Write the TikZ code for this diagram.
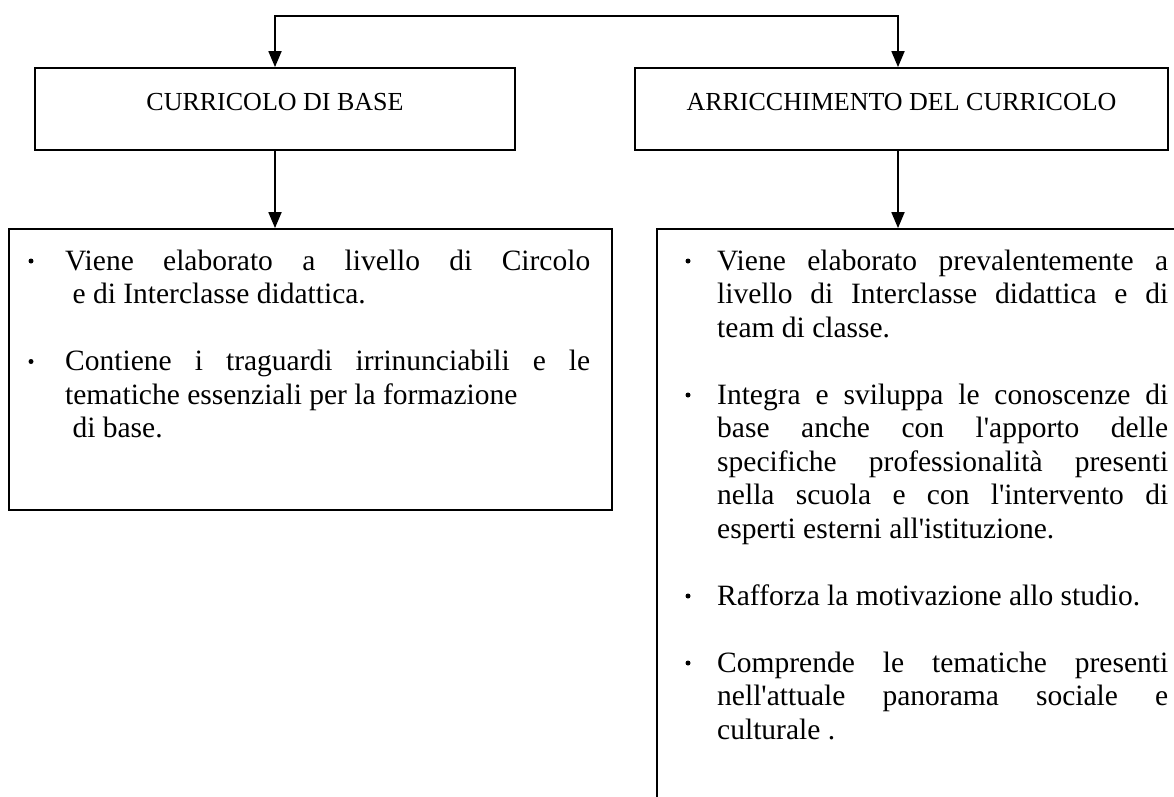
\documentclass[tikz,border=0pt]{standalone}
\usepackage{fontspec}
\setmainfont{Liberation Serif}
\usetikzlibrary{arrows.meta}
\newcommand\bodyfont{\fontsize{29.5}{34}\selectfont}
\newcommand\titlefont{\fontsize{26}{30}\selectfont}
\newcommand\q{\textquotesingle}
\tikzset{
  boxst/.style={draw, line width=1.8pt, inner sep=0pt},
  titlebox/.style={boxst, minimum height=82pt, font=\titlefont, text height=20pt, text depth=16.8pt},
  arr/.style={line width=1.8pt, -{Triangle[width=13pt,length=16pt]}},
  arrtwo/.style={line width=1.8pt, {Triangle[width=13pt,length=16pt]}-{Triangle[width=13pt,length=16pt]}},
  txt/.style={anchor=base west, inner sep=0pt, font=\bodyfont},
  bul/.style={circle, fill=black, inner sep=0pt, minimum size=5pt},
}
\newcommand\jl[2]{\makebox[#1][s]{#2}}
\begin{document}
\begin{tikzpicture}[x=1pt,y=-1pt]
\useasboundingbox (0,0) rectangle (1174,796);
\clip (0,0) rectangle (1174,796);
% top boxes
\node[titlebox, minimum width=480pt] (cb) at (275,109) {CURRICOLO DI BASE};
\node[titlebox, minimum width=533pt] (ac) at (901.5,109) {ARRICCHIMENTO DEL CURRICOLO};
% lower boxes
\node[boxst, minimum width=603pt, minimum height=281pt] (lb) at (310.5,369.5) {};
\node[boxst, minimum width=545pt, minimum height=600pt] (rb) at (929.5,529) {};
% connectors
\coordinate (tl) at (275,16);
\coordinate (tr) at (898,16);
\draw[arrtwo] (tl |- cb.north) -- (tl) -- (tr) -- (tr |- ac.north);
\draw[arr] (tl |- cb.south) -- (tl |- lb.north);
\draw[arr] (tr |- ac.south) -- (tr |- rb.north);
% left text
\node[bul] (lbu1) at (31,261) {};
\node[txt] (l1) at (65,270) {\jl{525pt}{Viene elaborato a livello di Circolo}};
\node[txt] (l2) at (65,303.5) {\ e di Interclasse didattica.};
\node[bul] (lbu2) at (31,361.5) {};
\node[txt] (l3) at (65,370.5) {\jl{525pt}{Contiene i traguardi irrinunciabili e le}};
\node[txt] (l4) at (65,404) {tematiche essenziali per la formazione};
\node[txt] (l5) at (65,437.5) {\ di base.};
% right text
\node[bul] (rbu1) at (688,261) {};
\node[txt] (r1) at (717,270) {\jl{451pt}{Viene elaborato prevalentemente a}};
\node[txt] (r2) at (717,303.5) {\jl{451pt}{livello di Interclasse didattica e di}};
\node[txt] (r3) at (717,337) {team di classe.};
\node[bul] (rbu2) at (688,395) {};
\node[txt] (r4) at (717,404) {\jl{451pt}{Integra e sviluppa le conoscenze di}};
\node[txt] (r5) at (717,437.5) {\jl{451pt}{base anche con l\q apporto delle}};
\node[txt] (r6) at (717,471) {\jl{451pt}{specifiche professionalità presenti}};
\node[txt] (r7) at (717,504.5) {\jl{451pt}{nella scuola e con l\q intervento di}};
\node[txt] (r8) at (717,538) {esperti esterni all\q istituzione.};
\node[bul] (rbu3) at (688,596) {};
\node[txt] (r9) at (717,605) {Rafforza la motivazione allo studio.};
\node[bul] (rbu4) at (688,663) {};
\node[txt] (r10) at (717,672) {\jl{451pt}{Comprende le tematiche presenti}};
\node[txt] (r11) at (717,705.5) {\jl{451pt}{nell\q attuale panorama sociale e}};
\node[txt] (r12) at (717,739) {culturale .};
\end{tikzpicture}
\end{document}
